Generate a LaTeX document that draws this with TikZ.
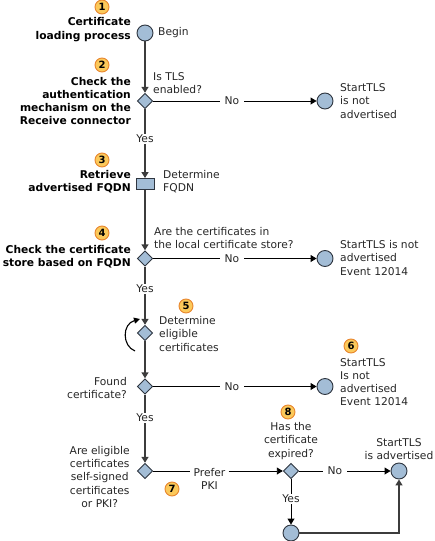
\documentclass[tikz,border=0pt]{standalone}
\usepackage{fontspec}
\setmainfont{DejaVu Sans}
\usetikzlibrary{arrows.meta,shapes.geometric}
\definecolor{nodeblue}{HTML}{A3BDD6}
\definecolor{nodeedge}{HTML}{2F3640}
\definecolor{badgefill}{HTML}{FBC95A}
\definecolor{badgeedge}{HTML}{E8862E}
\definecolor{flowline}{HTML}{3C3C3C}
\tikzset{
  every node/.style={font=\fontsize{10.7}{13.2}\selectfont,text=black!85,inner sep=0pt},
  startend/.style={circle,draw=nodeedge,fill=nodeblue,line width=0.9pt,minimum size=16pt},
  choice/.style={diamond,draw=nodeedge,fill=nodeblue,line width=0.9pt,minimum size=15.5pt},
  stepbox/.style={rectangle,draw=nodeedge,fill=nodeblue,line width=0.9pt,minimum width=18pt,minimum height=11pt},
  badge/.style={circle,draw=badgeedge,fill=badgefill,line width=0.9pt,minimum size=14pt,text=black,font=\fontsize{10}{11}\selectfont\bfseries},
  flow/.style={line width=1.4pt,draw=flowline,-{Triangle[length=6pt,width=7pt]}},
  thin flow/.style={line width=0.9pt,draw=black,-{Triangle[length=6pt,width=7pt]}},
  plain flow/.style={line width=0.9pt,draw=black},
  plain main/.style={line width=1.4pt,draw=flowline},
  heading/.style={align=right,anchor=east,font=\fontsize{10.7}{13.2}\selectfont\bfseries,text=black},
  note/.style={align=left,anchor=west}
}
\begin{document}
\begin{tikzpicture}[x=1pt,y=-1pt]
  \useasboundingbox (0,0) rectangle (435,541);
  % shapes of the main column
  \node[startend] (begin) at (145,33) {};
  \node[choice] (tls) at (145,101) {};
  \node[stepbox] (fqdn) at (145,184) {};
  \node[choice] (store) at (145,258.5) {};
  \node[choice] (eligible) at (145,333) {};
  \node[choice] (found) at (145,386.5) {};
  \node[choice] (signed) at (145,471) {};
  \node[choice] (expired) at (291,471) {};
  % end states
  \node[startend] (notadv1) at (325,101) {};
  \node[startend] (notadv2) at (325,258.5) {};
  \node[startend] (notadv3) at (325,386.5) {};
  \node[startend] (adv) at (399,471) {};
  \node[startend] (joined) at (291,533) {};
  % yes and no labels
  \node[fill=white,inner sep=1pt] (yes1) at (145,139) {Yes};
  \node[fill=white,inner sep=1pt] (yes2) at (145,289) {Yes};
  \node[fill=white,inner sep=1pt] (yes3) at (145,418) {Yes};
  \node[fill=white,inner sep=1pt] (yes4) at (291,499) {Yes};
  \node[inner xsep=5pt] (no1) at (232,101) {No};
  \node[inner xsep=5pt] (no2) at (232,258.5) {No};
  \node[inner xsep=5pt] (no3) at (232,386.5) {No};
  \node[inner xsep=5pt] (no4) at (335,471) {No};
  \node[align=center,inner xsep=3pt] (prefer) at (209.5,479) {Prefer\\PKI};
  % connectors
  \draw[flow] (begin) -- (tls);
  \draw[plain main] (tls) -- (yes1);
  \draw[flow] (yes1) -- (fqdn);
  \draw[flow] (fqdn) -- (store);
  \draw[plain main] (store) -- (yes2);
  \draw[flow] (yes2) -- (eligible);
  \draw[flow] (eligible) -- (found);
  \draw[plain main] (found) -- (yes3);
  \draw[flow] (yes3) -- (signed);
  \draw[plain flow] (tls) -- (no1);
  \draw[thin flow] (no1) -- (notadv1);
  \draw[plain flow] (store) -- (no2);
  \draw[thin flow] (no2) -- (notadv2);
  \draw[plain flow] (found) -- (no3);
  \draw[thin flow] (no3) -- (notadv3);
  \draw[plain flow] (signed) -- (prefer.west |- signed);
  \draw[thin flow] (prefer.east |- expired) -- (expired);
  \draw[plain flow] (expired) -- (no4);
  \draw[thin flow] (no4) -- (adv);
  \draw[plain flow] (expired) -- (yes4);
  \draw[thin flow] (yes4) -- (joined);
  \draw[flow] (joined) -| (adv);
  \coordinate (loopstart) at (135,351);
  \coordinate (loopend) at (140,319);
  \draw[line width=1.1pt,-{Triangle[length=6pt,width=6pt]}] (loopstart) .. controls (122,346) and (122,324) .. (loopend);
  % headings
  \node[heading] (h1) at (131,29.5) {Certificate\\loading process};
  \node[heading] (h2) at (131,101) {Check the\\authentication\\mechanism on the\\Receive connector};
  \node[heading] (h3) at (131,181.5) {Retrieve\\advertised FQDN};
  \node[heading] (h4) at (131,257) {Check the certificate\\store based on FQDN};
  % notes
  \node[note] (n1) at (158,33) {Begin};
  \node[note] (n2) at (153,83) {Is TLS\\enabled?};
  \node[note] (n3) at (163,182) {Determine\\FQDN};
  \node[note] (n4) at (154,238) {Are the certificates in\\the local certificate store?};
  \node[note] (n5) at (159,334) {Determine\\eligible\\certificates};
  \node[align=right,anchor=east] (n6) at (127,388) {Found\\certificate?};
  \node[align=center,anchor=east] (n7) at (130,477) {Are eligible\\certificates\\self-signed\\certificates\\or PKI?};
  \node[align=center] (n8) at (291,441) {Has the\\certificate\\expired?};
  \node[align=center] (n9) at (399,449) {StartTLS\\is advertised};
  \node[note] (r1) at (340,101) {StartTLS\\is not\\advertised};
  \node[note] (r2) at (340,258) {StartTLS is not\\advertised\\Event 12014};
  \node[note] (r3) at (340,382) {StartTLS\\Is not\\advertised\\Event 12014};
  % numbered badges
  \node[badge] (b1) at (102,7) {1};
  \node[badge] (b2) at (102,65) {2};
  \node[badge] (b3) at (102,160) {3};
  \node[badge] (b4) at (102,233) {4};
  \node[badge] (b5) at (186,306) {5};
  \node[badge] (b6) at (351,346) {6};
  \node[badge] (b7) at (172,489) {7};
  \node[badge] (b8) at (288,412) {8};
\end{tikzpicture}
\end{document}
